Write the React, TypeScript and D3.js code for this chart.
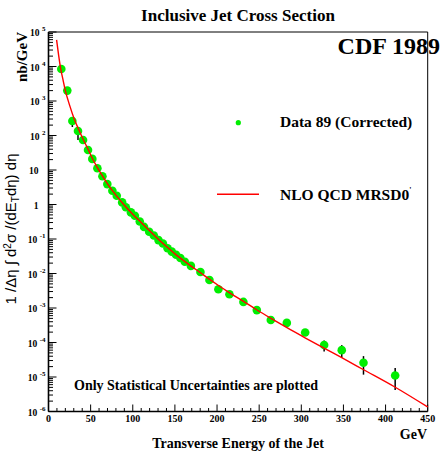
import React from "react";
import * as d3 from "d3";

// Measured inclusive jet cross section (nb/GeV) vs jet ET (GeV)
const dataEt = [
  15.2, 22.3, 28.3, 35.0, 41.0, 46.9, 52.0, 58.0, 64.0, 69.8, 75.8, 81.0, 87.4, 91.8,
  97.8, 102.5, 108.3, 113.4, 119.5, 125.0, 130.5, 135.8, 141.3, 146.3, 151.4, 156.5,
  161.8, 169.0, 180.3, 191.0, 201.6, 214.7, 231.3, 247.2, 263.8, 282.8, 304.6, 327.1,
  348.0, 373.8, 411.4,
];
const dataSigma = [
  8500, 2000, 263, 135, 74, 38, 21, 11.2, 6.6, 3.9, 2.5, 1.8, 1.15, 0.83,
  0.59, 0.47, 0.32, 0.224, 0.162, 0.126, 0.093, 0.074, 0.054, 0.043, 0.035, 0.028,
  0.022, 0.0166, 0.011, 0.0065, 0.0035, 0.0025, 0.0015, 0.00087, 0.00045, 0.00037, 0.000195, 8.5e-5,
  6.0e-5, 2.6e-5, 1.1e-5,
];
// Relative statistical uncertainties (down / up)
const errDown = [
  0, 0, 0.33, 0.45, 0, 0, 0, 0, 0, 0, 0, 0, 0, 0,
  0, 0, 0, 0, 0, 0, 0, 0, 0, 0, 0, 0,
  0, 0, 0, 0, 0, 0, 0, 0, 0, 0.15, 0.2, 0.35,
  0.4, 0.55, 0.62,
];
const errUp = [
  0, 0, 0.1, 0.1, 0, 0, 0, 0, 0, 0, 0, 0, 0, 0,
  0, 0, 0, 0, 0, 0, 0, 0, 0, 0, 0, 0,
  0, 0, 0, 0, 0, 0, 0, 0, 0, 0.15, 0.2, 0.35,
  0.4, 0.55, 0.66,
];

// NLO QCD (MRSD0') prediction
const theoryEt = [
  9.6, 12, 14.5, 17, 20, 25, 31, 35, 41, 47, 52, 58, 64, 70, 80, 90, 100, 110, 120, 130,
  140, 150, 160, 170, 180, 190, 200, 215, 231, 247, 264, 283, 305, 327.5, 348, 374, 411, 450,
];
const theoryLog10 = [
  4.77, 4.33, 3.93, 3.64, 3.3, 2.88, 2.45, 2.22, 1.9, 1.6, 1.34, 1.07, 0.83, 0.6, 0.27, -0.02,
  -0.28, -0.52, -0.76, -1.0, -1.22, -1.43, -1.62, -1.8, -1.97, -2.15, -2.32, -2.56, -2.8, -3.05,
  -3.3, -3.57, -3.87, -4.17, -4.44, -4.79, -5.29, -5.87,
];

const xMajorTicks = [0, 50, 100, 150, 200, 250, 300, 350, 400, 450];
const yExponents = [5, 4, 3, 2, 1, 0, -1, -2, -3, -4, -5, -6];

const W = 441;
const H = 453;
const L = 48.5;
const R = 427.7;
const T = 32;
const B = 411.5;

const serif = "'Liberation Serif', 'Times New Roman', serif";
const sans = "'Liberation Sans', Arial, Helvetica, sans-serif";
const green = "#00ee00";

export default function App() {
  const x = d3.scaleLinear().domain([0, 450]).range([L, R]);
  const y = d3.scaleLog().domain([1e-6, 1e5]).range([B, T]);

  const xMinor = d3.range(0, 451, 10);
  const yMinor: number[] = [];
  for (let e = -6; e < 5; e++) {
    for (let m = 2; m <= 9; m++) yMinor.push(m * Math.pow(10, e));
  }

  const theory = theoryEt.map((e, i) => [e, Math.pow(10, theoryLog10[i])] as [number, number]);
  const line = d3
    .line<[number, number]>()
    .x((d) => x(d[0]))
    .y((d) => y(d[1]))
    .curve(d3.curveMonotoneX);

  return (
    <svg
      width={W}
      height={H}
      style={{ position: "absolute", left: 0, top: 0, background: "#fff" }}
    >
      {/* title */}
      <text x={238} y={21} textAnchor="middle" fontFamily={serif} fontWeight="bold" fontSize={17}>
        Inclusive Jet Cross Section
      </text>

      {/* frame */}
      <line x1={L} x2={R} y1={T} y2={T} stroke="#000" strokeWidth={1} />
      <line x1={R} x2={R} y1={T} y2={B} stroke="#000" strokeWidth={1} />
      <line x1={L} x2={L} y1={T} y2={B} stroke="#000" strokeWidth={1.6} />
      <line x1={L} x2={R} y1={B} y2={B} stroke="#000" strokeWidth={1.6} />

      {/* x ticks */}
      {xMinor.map((v) => (
        <line
          key={"xm" + v}
          x1={x(v)}
          x2={x(v)}
          y1={B}
          y2={B - (v % 50 === 0 ? 7 : 3.5)}
          stroke="#000"
          strokeWidth={1}
        />
      ))}
      {xMajorTicks.map((v) => (
        <text
          key={"xl" + v}
          x={x(v)}
          y={422}
          textAnchor="middle"
          fontFamily={serif}
          fontWeight="bold"
          fontSize={10}
        >
          {v}
        </text>
      ))}

      {/* y ticks */}
      {yMinor.map((v, i) => (
        <line key={"ym" + i} x1={L} x2={L + 4.5} y1={y(v)} y2={y(v)} stroke="#000" strokeWidth={1} />
      ))}
      {yExponents.map((e) => (
        <line
          key={"yM" + e}
          x1={L}
          x2={L + 8}
          y1={y(Math.pow(10, e))}
          y2={y(Math.pow(10, e))}
          stroke="#000"
          strokeWidth={1}
        />
      ))}
      {yExponents.map((e) => {
        const ty = y(Math.pow(10, e)) + 4;
        if (e === 1 || e === 0) {
          return (
            <text
              key={"yl" + e}
              x={38.5}
              y={ty}
              textAnchor="end"
              fontFamily={serif}
              fontWeight="bold"
              fontSize={9.5}
            >
              {e === 1 ? "10" : "1"}
            </text>
          );
        }
        return (
          <text
            key={"yl" + e}
            x={45.5}
            y={ty}
            textAnchor="end"
            fontFamily={serif}
            fontWeight="bold"
            fontSize={9.5}
          >
            <tspan>10</tspan>
            <tspan dx={2.5} dy={-5} fontSize={7}>
              {String(e)}
            </tspan>
          </text>
        );
      })}

      {/* axis titles */}
      <text
        transform="translate(27,82) rotate(-90)"
        fontFamily={serif}
        fontWeight="bold"
        fontSize={15}
      >
        nb/GeV
      </text>
      <text
        transform="translate(16,229) rotate(-90)"
        textAnchor="middle"
        fontFamily={sans}
        fontSize={15}
      >
        <tspan>1 /Δη ∫ d</tspan>
        <tspan dy={-5} fontSize={10}>2</tspan>
        <tspan dy={5}>σ /(dE</tspan>
        <tspan dy={3} fontSize={10}>T</tspan>
        <tspan dy={-3}>dη) dη</tspan>
      </text>
      <text x={238} y={448} textAnchor="middle" fontFamily={serif} fontWeight="bold" fontSize={14}>
        Transverse Energy of the Jet
      </text>
      <text x={427} y={439} textAnchor="end" fontFamily={serif} fontWeight="bold" fontSize={14}>
        GeV
      </text>

      {/* error bars */}
      {dataEt.map((e, i) =>
        errDown[i] > 0 || errUp[i] > 0 ? (
          <line
            key={"eb" + i}
            x1={x(e)}
            x2={x(e)}
            y1={y(dataSigma[i] * (1 - errDown[i]))}
            y2={y(dataSigma[i] * (1 + errUp[i]))}
            stroke="#000"
            strokeWidth={1.5}
          />
        ) : null
      )}
      {/* data points */}
      {dataEt.map((e, i) => (
        <circle key={"pt" + i} cx={x(e)} cy={y(dataSigma[i])} r={4.3} fill={green} />
      ))}

      {/* theory curve */}
      <path d={line(theory) || ""} fill="none" stroke="#ff0000" strokeWidth={1.4} />

      {/* annotations */}
      <text x={440} y={54} textAnchor="end" fontFamily={serif} fontWeight="bold" fontSize={24}>
        CDF 1989
      </text>
      <circle cx={238.3} cy={122.7} r={2.6} fill={green} />
      <text x={280} y={127} fontFamily={serif} fontWeight="bold" fontSize={15.5}>
        Data 89 (Corrected)
      </text>
      <line x1={217} x2={259} y1={194.3} y2={194.3} stroke="#ff0000" strokeWidth={1.4} />
      <text x={280} y={200} fontFamily={serif} fontWeight="bold" fontSize={15.5}>
        <tspan>NLO QCD MRSD0</tspan>
        <tspan dy={-7} fontSize={8}>'</tspan>
      </text>
      <text x={74} y={390} fontFamily={serif} fontWeight="bold" fontSize={14}>
        Only Statistical Uncertainties are plotted
      </text>
    </svg>
  );
}
